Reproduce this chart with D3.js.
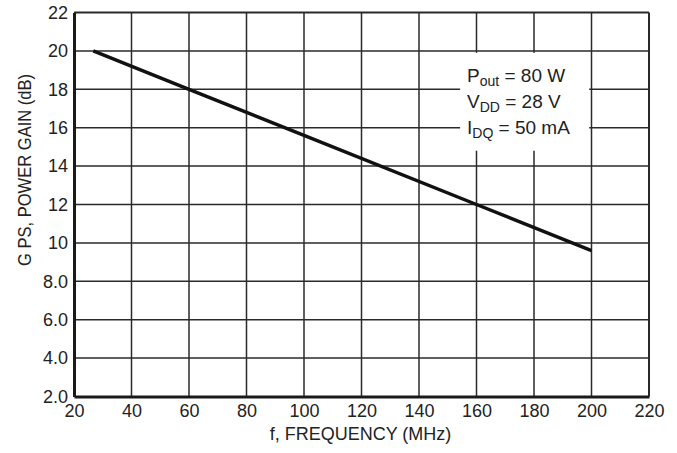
<!DOCTYPE html>
<html>
<head>
<meta charset="utf-8">
<script src="https://cdn.jsdelivr.net/npm/d3@7"></script>
<style>
  body { margin: 0; background: #fff; }
  svg text { font-family: "Liberation Sans", Arial, sans-serif; fill: #222; }
</style>
</head>
<body>
<svg id="chart" width="677" height="453"></svg>
<script>
// frequency (MHz) vs power gain (dB)
var freqMHz = [26.7, 60, 100, 160, 200];
var gainDb = [20.0, 18.0, 15.6, 12.0, 9.6];

var xTicks = [20, 40, 60, 80, 100, 120, 140, 160, 180, 200, 220];
var yTicks = [2, 4, 6, 8, 10, 12, 14, 16, 18, 20, 22];

var notes = [
    { main: "P", sub: "out", rest: " = 80 W" },
    { main: "V", sub: "DD", rest: " = 28 V" },
    { main: "I", sub: "DQ", rest: " = 50 mA" }
];

var plot = { left: 74, right: 649, top: 12.5, bottom: 396.5 };

var svg = d3.select('#chart');

var x = d3.scaleLinear().domain([20, 220]).range([plot.left, plot.right]);
var y = d3.scaleLinear().domain([2, 22]).range([plot.bottom, plot.top]);

var fmtY = (d) => d < 10 ? d.toFixed(1) : d.toString();

// grid
var grid = svg.append('g').attr('stroke', '#2a2a2a').attr('stroke-width', 1.5);

grid.selectAll('line.vx')
    .data(xTicks.slice(1, -1))
    .enter().append('line')
    .attr('x1', (d) => x(d)).attr('x2', (d) => x(d))
    .attr('y1', plot.top).attr('y2', plot.bottom);

grid.selectAll('line.hy')
    .data(yTicks.slice(1, -1))
    .enter().append('line')
    .attr('y1', (d) => y(d)).attr('y2', (d) => y(d))
    .attr('x1', plot.left).attr('x2', plot.right);

// annotation box covers part of the grid
svg.append('rect')
    .attr('x', x(154.3)).attr('y', y(19.9))
    .attr('width', x(199.2) - x(154.3))
    .attr('height', y(14.8) - y(19.9))
    .attr('fill', '#fff');

// frame
svg.append('line').attr('x1', plot.left).attr('x2', plot.right)
    .attr('y1', plot.top).attr('y2', plot.top)
    .attr('stroke', '#2a2a2a').attr('stroke-width', 2);
svg.append('line').attr('x1', plot.right).attr('x2', plot.right)
    .attr('y1', plot.top).attr('y2', plot.bottom)
    .attr('stroke', '#2a2a2a').attr('stroke-width', 2);

// axes
var xAxis = d3.axisBottom(x).tickValues(xTicks).tickSize(0).tickPadding(8);
var yAxis = d3.axisLeft(y).tickValues(yTicks).tickFormat(fmtY).tickSize(0).tickPadding(6);

var gx = svg.append('g')
    .attr('transform', 'translate(0,' + plot.bottom + ')')
    .call(xAxis);
var gy = svg.append('g')
    .attr('transform', 'translate(' + plot.left + ',0)')
    .call(yAxis);

[gx, gy].forEach(function(g) {
    g.select('.domain').attr('stroke', '#1a1a1a').attr('stroke-width', 3);
    g.selectAll('text').attr('font-size', 18)
        .attr('font-family', '"Liberation Sans", Arial, sans-serif')
        .attr('fill', '#222');
});

// data line
var line = d3.line()
    .x((d, i) => x(freqMHz[i]))
    .y((d) => y(d));

svg.append('path')
    .datum(gainDb)
    .attr('d', line)
    .attr('fill', 'none')
    .attr('stroke', '#111')
    .attr('stroke-width', 3.5);

// conditions text
var noteText = svg.append('g');
notes.forEach(function(n, i) {
    var t = noteText.append('text')
        .attr('x', 467)
        .attr('y', 82 + i * 26)
        .attr('font-size', 19);
    t.append('tspan').text(n.main);
    t.append('tspan').attr('font-size', 14).attr('dy', 4).text(n.sub);
    t.append('tspan').attr('dy', -4).text(n.rest);
});

// axis titles
svg.append('text')
    .attr('x', (plot.left + plot.right) / 2 - 1)
    .attr('y', 440)
    .attr('text-anchor', 'middle')
    .attr('font-size', 18)
    .text('f, FREQUENCY (MHz)');

svg.append('text')
    .attr('transform', 'translate(31,170) rotate(-90) scale(0.92,1)')
    .attr('text-anchor', 'middle')
    .attr('font-size', 18)
    .text('G PS, POWER GAIN (dB)');
</script>
</body>
</html>
